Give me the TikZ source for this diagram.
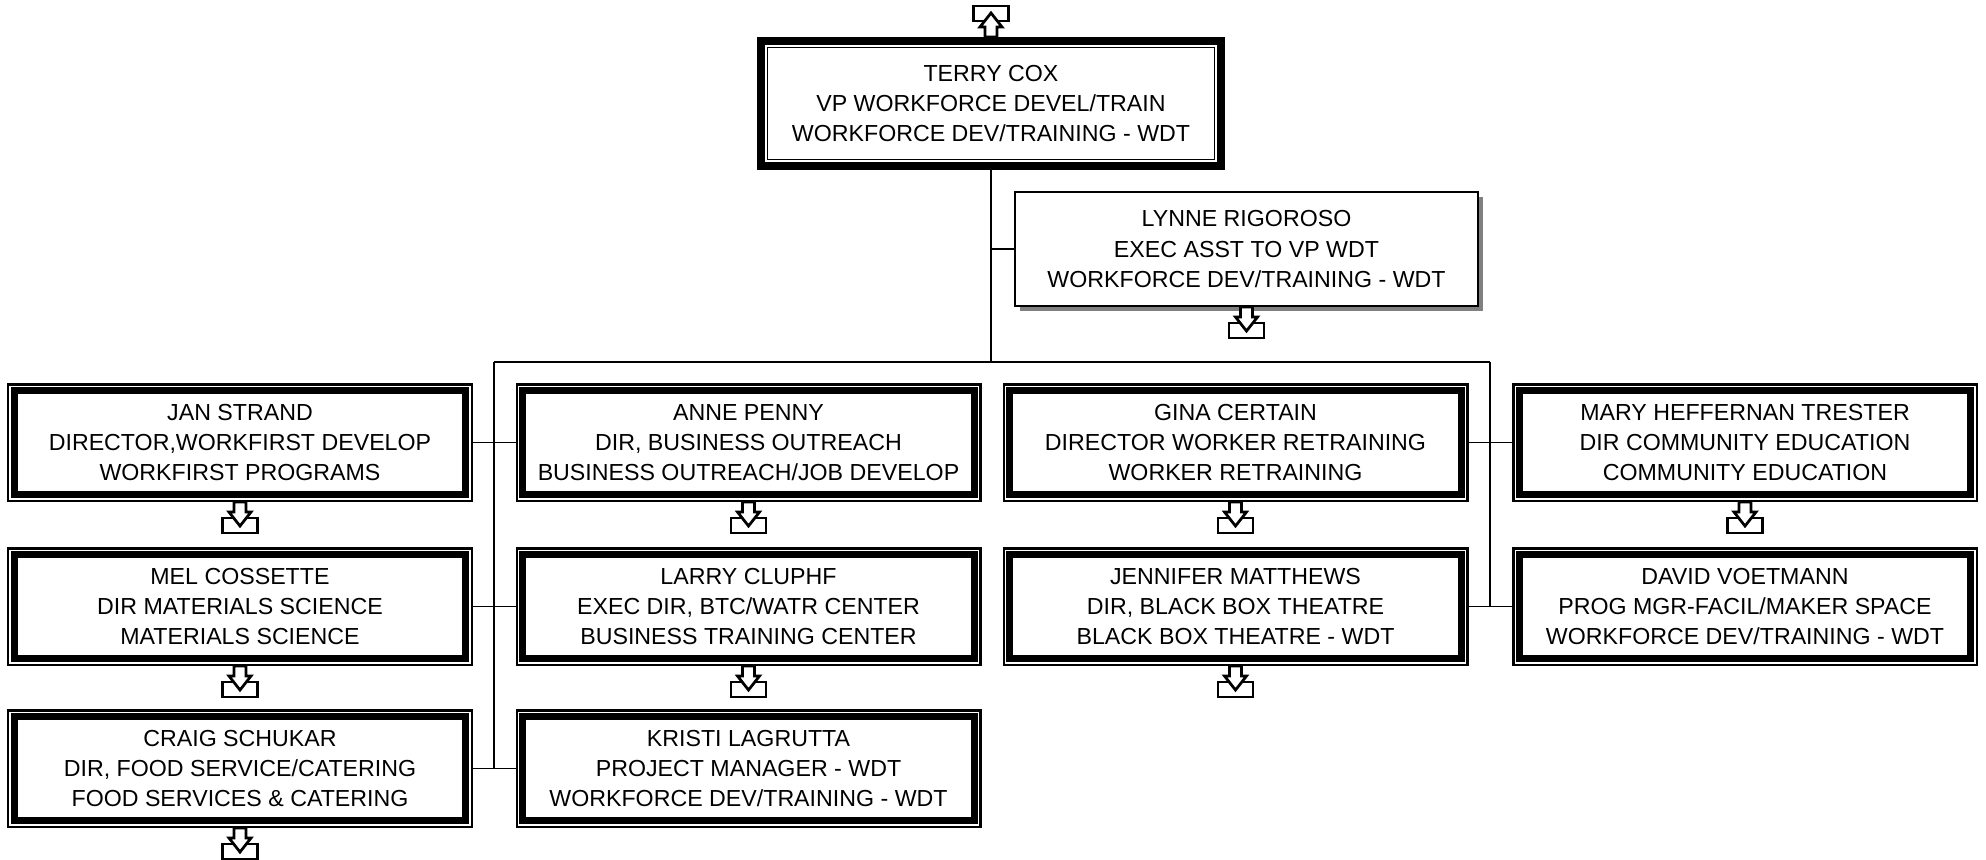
\documentclass[tikz,border=0pt]{standalone}
\usepackage{fontspec}
\setmainfont{Liberation Sans}
\usetikzlibrary{shadows}

\begin{document}
\begin{tikzpicture}[
    card/.style={rectangle, fill=white, inner sep=0pt, align=center,
                 font=\fontsize{6.6}{8.55}\selectfont},
    unit/.style={card, draw, line width=1.9pt, outer sep=0.0725cm,
                 minimum width=4.515cm, minimum height=1.045cm},
    head/.style={card, draw, line width=2.3pt,
                 minimum width=4.6cm, minimum height=1.25cm},
    staff/.style={card, draw, line width=0.57pt,
                  minimum width=4.63cm, minimum height=1.14cm,
                  drop shadow={shadow xshift=0.045cm, shadow yshift=-0.045cm,
                               fill=black!50, opacity=1}},
    frame/.style={line width=0.71pt},
    link/.style={line width=0.5pt},
    pics/tray/.style={code={
        \draw[line width=0.78pt, fill=white] (-0.175,-0.16) rectangle (0.175,-0.31);
        \draw[line width=0.78pt, fill=white] (-0.06,0) -- (-0.06,-0.10) -- (-0.11,-0.10)
            -- (0,-0.24) -- (0.11,-0.10) -- (0.06,-0.10) -- (0.06,0) -- cycle;
    }},
  ]
    \useasboundingbox (0,0) rectangle (19.86,-8.59);

    % top
    \node[head] (terry) at (9.91,-1.035)
          {TERRY COX\\VP WORKFORCE DEVEL/TRAIN\\WORKFORCE DEV/TRAINING - WDT};
    \node[staff] (lynne) at (12.465,-2.49)
          {LYNNE RIGOROSO\\EXEC ASST TO VP WDT\\WORKFORCE DEV/TRAINING - WDT};

    % row 1
    \node[unit] (jan)  at (2.40,-4.425)
          {JAN STRAND\\DIRECTOR,WORKFIRST DEVELOP\\WORKFIRST PROGRAMS};
    \node[unit] (anne) at (7.485,-4.425)
          {ANNE PENNY\\DIR, BUSINESS OUTREACH\\BUSINESS OUTREACH/JOB DEVELOP};
    \node[unit] (gina) at (12.355,-4.425)
          {GINA CERTAIN\\DIRECTOR WORKER RETRAINING\\WORKER RETRAINING};
    \node[unit] (mary) at (17.45,-4.425)
          {MARY HEFFERNAN TRESTER\\DIR COMMUNITY EDUCATION\\COMMUNITY EDUCATION};

    % row 2
    \node[unit] (mel)      at (2.40,-6.065)
          {MEL COSSETTE\\DIR MATERIALS SCIENCE\\MATERIALS SCIENCE};
    \node[unit] (larry)    at (7.485,-6.065)
          {LARRY CLUPHF\\EXEC DIR, BTC/WATR CENTER\\BUSINESS TRAINING CENTER};
    \node[unit] (jennifer) at (12.355,-6.065)
          {JENNIFER MATTHEWS\\DIR, BLACK BOX THEATRE\\BLACK BOX THEATRE - WDT};
    \node[unit] (david)    at (17.45,-6.065)
          {DAVID VOETMANN\\PROG MGR-FACIL/MAKER SPACE\\WORKFORCE DEV/TRAINING - WDT};

    % row 3
    \node[unit] (craig)  at (2.40,-7.685)
          {CRAIG SCHUKAR\\DIR, FOOD SERVICE/CATERING\\FOOD SERVICES \& CATERING};
    \node[unit] (kristi) at (7.485,-7.685)
          {KRISTI LAGRUTTA\\PROJECT MANAGER - WDT\\WORKFORCE DEV/TRAINING - WDT};

    % double frames
    \foreach \n in {jan,anne,gina,mary,mel,larry,jennifer,david,craig,kristi}
      \draw[frame] ([shift={(0.0125,-0.0125)}]\n.north west)
                   rectangle ([shift={(-0.0125,0.0125)}]\n.south east);
    \draw[line width=0.43pt] ([shift={(0.1075,-0.1075)}]terry.north west)
                   rectangle ([shift={(-0.1075,0.1075)}]terry.south east);

    % lines
    \coordinate (bus)  at (9.91,-3.62);
    \coordinate (lbus) at (4.94,-3.62);
    \coordinate (rbus) at (14.90,-3.62);
    \draw[link] (terry.south) -- (bus);
    \draw[link] (lynne.west) -- (lynne.west -| bus);
    \draw[link] (lbus) -- (rbus);
    \draw[link] (lbus) -- (lbus |- craig.east);
    \draw[link] (rbus) -- (rbus |- david.west);
    \draw[link] (jan.east) -- (anne.west);
    \draw[link] (mel.east) -- (larry.west);
    \draw[link] (craig.east) -- (kristi.west);
    \draw[link] (gina.east) -- (mary.west);
    \draw[link] (jennifer.east) -- (david.west);

    % icons
    \pic[yscale=-1] at (terry.north) {tray};
    \foreach \n in {lynne,jan,anne,gina,mary,mel,larry,jennifer,craig}
      \pic at (\n.south) {tray};
  \end{tikzpicture}
\end{document}
